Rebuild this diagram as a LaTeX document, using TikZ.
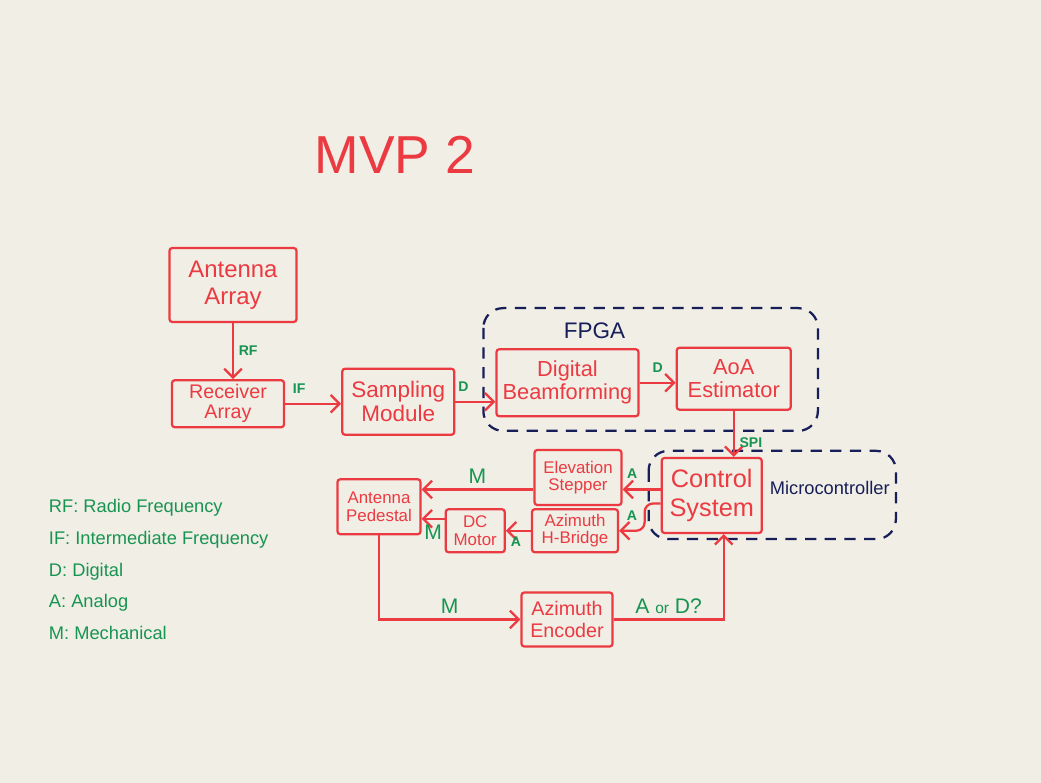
\documentclass[tikz,border=0pt]{standalone}
\usepackage{fontspec}
\setmainfont{Liberation Sans}
\usetikzlibrary{arrows.meta, positioning, calc}

\definecolor{markred}{RGB}{236,58,66}
\definecolor{markgreen}{RGB}{24,148,82}
\definecolor{marknavy}{RGB}{24,30,88}
\definecolor{board}{RGB}{240,238,229}

\begin{document}
\begin{tikzpicture}[
        node distance=1.4cm and 1.4cm,
        box/.style={draw=markred, text=markred, line width=1.6pt, rounded corners=2pt, align=center, inner sep=1pt, font=\fontsize{15.5}{16.5}\selectfont},
        small/.style={box, font=\fontsize{12}{12.5}\selectfont},
        arrow/.style={-{Straight Barb[length=2.2mm, width=4.4mm]}, draw=markred, line width=1.6pt},
        sig/.style={text=markgreen, font=\bfseries\fontsize{10}{11}\selectfont},
        sigbig/.style={text=markgreen, font=\fontsize{15}{16}\selectfont},
        group/.style={draw=marknavy, line width=1.6pt, dash pattern=on 8pt off 6pt, rounded corners=14pt},
        grouplabel/.style={text=marknavy, font=\fontsize{16}{17}\selectfont}
    ]
        \path[use as bounding box, fill=board] (0,0) rectangle (26.025,-19.575);

        \node[text=markred, font=\fontsize{38}{40}\selectfont] (title) at (9.875,-3.875) {MVP 2};

        \node[box, font=\fontsize{17}{19}\selectfont, minimum width=3.175cm, minimum height=1.85cm] (ant) at (5.825,-7.125) {Antenna\\Array};
        \node[box, font=\fontsize{14}{14}\selectfont, below=1.4cm of ant, xshift=-0.125cm, minimum width=2.8cm, minimum height=1.175cm] (rcv) {Receiver\\Array};
        \node[box, font=\fontsize{16}{17}\selectfont, right=1.4cm of rcv, yshift=0.05cm, minimum width=2.8cm, minimum height=1.65cm] (smp) {Sampling\\Module};
        \node[box, right=1.0cm of smp, yshift=0.475cm, minimum width=3.55cm, minimum height=1.675cm] (dbf) {Digital\\Beamforming};
        \node[box, right=0.9cm of dbf, yshift=0.1cm, minimum width=2.85cm, minimum height=1.55cm] (aoa) {AoA\\Estimator};
        \node[box, font=\fontsize{18}{20}\selectfont, below=1.15cm of aoa, xshift=-0.55cm, minimum width=2.5cm, minimum height=1.875cm] (ctl) {Control\\System};
        \node[small, left=0.95cm of ctl, yshift=0.45cm, minimum width=2.175cm, minimum height=1.375cm] (elv) {Elevation\\Stepper};
        \node[small, below=0.05cm of elv, xshift=-0.075cm, minimum width=2.15cm, minimum height=1.075cm] (hbr) {Azimuth\\H-Bridge};
        \node[small, left=0.625cm of hbr, minimum width=1.475cm, minimum height=1.075cm] (dcm) {DC\\Motor};
        \node[small, left=0.575cm of dcm, yshift=0.6cm, minimum width=2.075cm, minimum height=1.375cm] (ped) {Antenna\\Pedestal};
        \node[box, font=\fontsize{14}{15}\selectfont, below=0.95cm of hbr, xshift=-0.2cm, minimum width=2.275cm, minimum height=1.35cm] (enc) {Azimuth\\Encoder};

        \node[grouplabel, above=0.1cm of dbf, xshift=0.675cm] (fpgalbl) {FPGA};
        \node[grouplabel, font=\fontsize{13}{14}\selectfont, right=0.05cm of ctl, yshift=0.2cm] (mculbl) {Microcontroller};
        \draw[group] ($(dbf.north west)+(-0.3,1.0)$) rectangle ($(aoa.south east)+(0.65,-0.5)$);
        \draw[group] ($(ctl.north west)+(-0.3,0.15)$) rectangle ($(ctl.south east)+(3.325,-0.125)$);

        \node[text=markgreen, align=left, anchor=north west, font=\fontsize{13}{22.7}\selectfont] (legend) at (1.1,-12.35) {RF: Radio Frequency\\IF: Intermediate Frequency\\D: Digital\\A: Analog\\M: Mechanical};

        \draw[arrow] (ant) -- (ant |- rcv.north) node[sig, midway, right] {RF};
        \draw[arrow] (rcv) -- (rcv -| smp.west) node[sig, pos=0.25, above=3pt] {IF};
        \draw[arrow] (smp) -- (smp -| dbf.west) node[sig, pos=0.2, above=3pt] {D};
        \draw[arrow] (dbf) -- (dbf -| aoa.west) node[sig, midway, above=3pt] {D};
        \draw[arrow] (aoa) -- (aoa |- ctl.north) node[sig, pos=0.7, right] {SPI};

        \draw[arrow] ([yshift=0.15cm]ctl.west) -- ([yshift=0.15cm]ctl.west -| elv.east) node[sig, pos=0.75, above=4pt] {A};
        \draw[arrow, rounded corners=6pt] ([yshift=-0.2cm]ctl.west) -- ++(-0.4,0) |- (hbr.east) node[sig, pos=0.75, above=3pt] {A};
        \draw[arrow] ([yshift=-0.3cm]elv.west) -- ([yshift=-0.3cm]elv.west -| ped.east) node[sigbig, midway, above] {M};
        \draw[arrow] (hbr) -- (hbr -| dcm.east) node[sig, pos=0.6, below] {A};
        \draw[arrow] ([yshift=0.3cm]dcm.west) -- ([yshift=0.3cm]dcm.west -| ped.east) node[sigbig, midway, below] {M};

        \draw[arrow] (ped) |- (enc) node[sigbig, pos=0.75, above] {M};
        \draw[arrow] (enc) -| ([xshift=0.3cm]ctl.south) node[sigbig, pos=0.25, above] {A {\fontsize{11}{12}\selectfont or} D?};

    \end{tikzpicture}
\end{document}
